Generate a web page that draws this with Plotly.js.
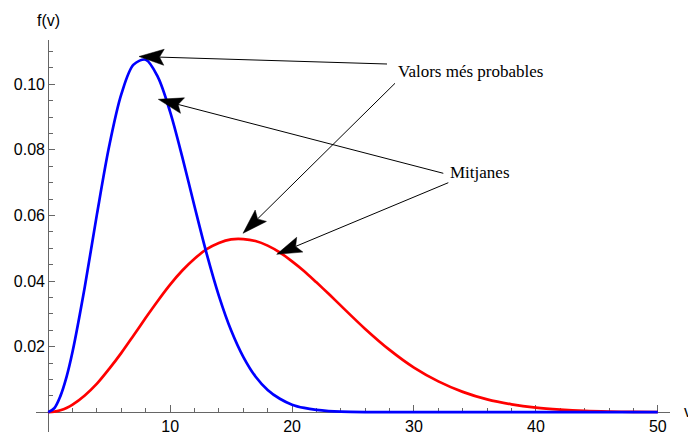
<!DOCTYPE html>
<html>
<head>
<meta charset="utf-8">
<script src="https://cdn.plot.ly/plotly-3.0.1.min.js"></script>
<style>
html,body{margin:0;padding:0;background:#ffffff;}
#chart{width:688px;height:435px;}
</style>
</head>
<body>
<div id="chart"></div>
<script>
// ---- data ----
const speeds = [0,0.5,1,1.5,2,3,4,5,6,7,8,9,10,11,12,13,14,15,16,17,18,19,20,21,22,23,24,26,28,30,32,34,36,38,40,42,44,46,48,50];
const fBlue = [0,0.0012,0.0049,0.0107,0.0185,0.0382,0.0604,0.0811,0.0970,0.1060,0.1075,0.1022,0.0916,0.0778,0.0628,0.0483,0.0355,0.0250,0.0169,0.0109,0.0068,0.0041,0.0023,0.0013,0.0007,0.00035,0.00017,0.00004,0.00001,0,0,0,0,0,0,0,0,0,0,0];
const fRed = [0,0.00015,0.0006,0.0013,0.0023,0.0051,0.0087,0.0132,0.0181,0.0234,0.0288,0.0340,0.0389,0.0432,0.0468,0.0497,0.0516,0.0527,0.0528,0.0522,0.0508,0.0487,0.0460,0.0430,0.0396,0.0361,0.0325,0.0254,0.0190,0.0136,0.0094,0.0062,0.0039,0.0024,0.0014,0.0008,0.0004,0.0002,0.0001,0.00006];
const xTickVals = [10,20,30,40,50];
const xTickText = ['10','20','30','40','50'];
const xMinorVals = [2,4,6,8,12,14,16,18,22,24,26,28,32,34,36,38,42,44,46,48];
const yTickVals = [0.02,0.04,0.06,0.08,0.10];
const yTickText = ['0.02','0.04','0.06','0.08','0.10'];
const yMinorVals = [0.005,0.01,0.015,0.025,0.03,0.035,0.045,0.05,0.055,0.065,0.07,0.075,0.085,0.09,0.095,0.105,0.11];
const labelMostProbable = 'Valors més probables';
const labelMeans = 'Mitjanes';
const yAxisLabel = 'f(v)';
const xAxisLabel = 'v';

// ---- layout geometry ----
const W = 688, H = 435;
const ML = 36, MR = 18, MT = 40, MB = 3;
const PW = W - ML - MR, PH = H - MT - MB;
const xRange = [-1, 51];
const yRange = [-0.00604, 0.11351];

function px2x(px){ return xRange[0] + (px - ML) / PW * (xRange[1] - xRange[0]); }
function py2y(py){ return yRange[1] - (py - MT) / PH * (yRange[1] - yRange[0]); }
function paperX(px){ return (px - ML) / PW; }
function paperY(py){ return 1 - (py - MT) / PH; }

// annotation arrows: [tail px, tail py, tip px, tip py]
const arrowGeom = [
  [387, 64, 139, 56.5],
  [395, 83.3, 243, 233.3],
  [443.3, 173.3, 158.3, 99.3],
  [448.3, 182.7, 276.7, 254.3]
];

const shapes = [];
const HEAD_L = 25, HEAD_W = 8, HEAD_N = 4.5;
arrowGeom.forEach(function(a){
  const tx = a[0], ty = a[1], hx = a[2], hy = a[3];
  let dx = tx - hx, dy = ty - hy;
  const len = Math.sqrt(dx*dx + dy*dy);
  dx /= len; dy /= len;
  const nx = -dy, ny = dx;
  const c1 = [dx*HEAD_L + nx*HEAD_W, dy*HEAD_L + ny*HEAD_W];
  const c2 = [dx*HEAD_L - nx*HEAD_W, dy*HEAD_L - ny*HEAD_W];
  const nt = [dx*(HEAD_L-HEAD_N), dy*(HEAD_L-HEAD_N)];
  shapes.push({
    type:'line', xref:'x', yref:'y',
    x0: px2x(tx), y0: py2y(ty),
    x1: px2x(hx + nt[0]), y1: py2y(hy + nt[1]),
    line:{color:'#000000', width:1}
  });
  const f = function(v){ return v.toFixed(2); };
  const path = 'M0,0 L' + f(c1[0]) + ',' + f(-c1[1]) +
               ' L' + f(nt[0]) + ',' + f(-nt[1]) +
               ' L' + f(c2[0]) + ',' + f(-c2[1]) + ' Z';
  shapes.push({
    type:'path', xref:'x', yref:'y',
    xsizemode:'pixel', ysizemode:'pixel',
    xanchor: px2x(hx), yanchor: py2y(hy),
    path: path,
    fillcolor:'#000000',
    line:{color:'#000000', width:0.5}
  });
});

const traces = [
  {x: speeds, y: fRed, type:'scatter', mode:'lines',
   line:{color:'#ff0000', width:2.7, shape:'spline', smoothing:0.9},
   hoverinfo:'skip', showlegend:false},
  {x: speeds, y: fBlue, type:'scatter', mode:'lines',
   line:{color:'#0000ff', width:2.7, shape:'spline', smoothing:0.9},
   hoverinfo:'skip', showlegend:false}
];

const axisColor = '#666666';
const tickFont = {family:'"Liberation Sans", Arial, sans-serif', size:16, color:'#000000'};
const serifFont = {family:'"Liberation Serif", "Times New Roman", serif', size:17, color:'#000000'};

const layout = {
  width: W, height: H,
  margin:{l:ML, r:MR, t:MT, b:MB, pad:0},
  paper_bgcolor:'#ffffff', plot_bgcolor:'#ffffff',
  showlegend:false,
  xaxis:{
    range: xRange, domain:[0,1], anchor:'free', position: (0 - yRange[0])/(yRange[1]-yRange[0]),
    showline:true, linecolor:axisColor, linewidth:1,
    ticks:'inside', ticklen:7, tickwidth:1, tickcolor:axisColor,
    tickmode:'array', tickvals:xTickVals, ticktext:xTickText, tickfont:tickFont,
    minor:{tickmode:'array', tickvals:xMinorVals, ticks:'inside', ticklen:4, tickwidth:1, tickcolor:axisColor, showgrid:false},
    showgrid:false, zeroline:false, layer:'below traces', fixedrange:true
  },
  yaxis:{
    range: yRange, domain:[0,1], anchor:'free', position: (0 - xRange[0])/(xRange[1]-xRange[0]),
    showline:true, linecolor:axisColor, linewidth:1,
    ticks:'inside', ticklen:6, tickwidth:1, tickcolor:axisColor,
    tickmode:'array', tickvals:yTickVals, ticktext:yTickText, tickfont:tickFont,
    minor:{tickmode:'array', tickvals:yMinorVals, ticks:'inside', ticklen:4, tickwidth:1, tickcolor:axisColor, showgrid:false},
    showgrid:false, zeroline:false, layer:'below traces', fixedrange:true
  },
  shapes: shapes,
  annotations:[
    {xref:'paper', yref:'paper', x: paperX(396), y: paperY(71), xanchor:'left', yanchor:'middle',
     text: labelMostProbable, showarrow:false, font: serifFont},
    {xref:'paper', yref:'paper', x: paperX(447.5), y: paperY(172), xanchor:'left', yanchor:'middle',
     text: labelMeans, showarrow:false, font: serifFont},
    {xref:'paper', yref:'paper', x: paperX(48), y: paperY(20.5), xanchor:'center', yanchor:'middle',
     text: yAxisLabel, showarrow:false, font: tickFont},
    {xref:'paper', yref:'paper', x: paperX(682), y: paperY(411), xanchor:'left', yanchor:'middle',
     text: xAxisLabel, showarrow:false, font: tickFont}
  ]
};

Plotly.newPlot('chart', traces, layout, {displayModeBar:false, staticPlot:true});
</script>
</body>
</html>
